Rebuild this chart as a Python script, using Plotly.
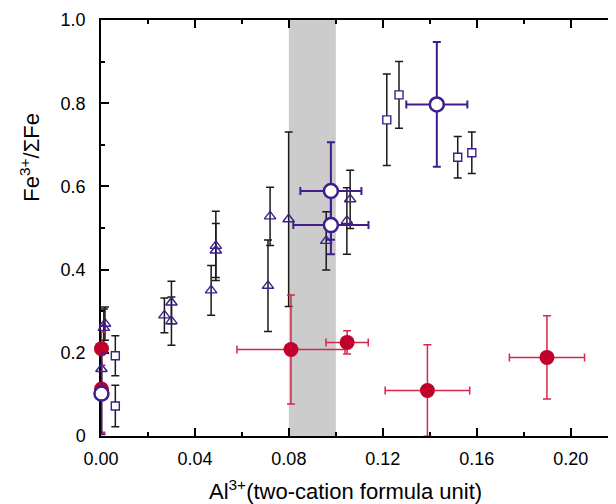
import plotly.graph_objects as go

# ---- data ----
tri_x = [0.0017, 0.0012, 0.0002, 0.0270, 0.0300, 0.0300, 0.0469, 0.0489, 0.0489,
         0.0711, 0.0720, 0.0799, 0.0959, 0.1047, 0.1061]
tri_y = [0.270, 0.260, 0.161, 0.290, 0.321, 0.276, 0.350, 0.457, 0.446,
         0.361, 0.528, 0.521, 0.469, 0.517, 0.569]
tri_err = [0.040, 0.045, 0.040, 0.042, 0.051, 0.058, 0.060, 0.083, 0.065,
           0.110, 0.070, 0.210, 0.070, 0.080, 0.070]

sq_x = [0.0061, 0.0061, 0.1217, 0.1269, 0.1519, 0.1579]
sq_y = [0.193, 0.072, 0.760, 0.820, 0.670, 0.681]
sq_err = [0.048, 0.050, 0.110, 0.080, 0.050, 0.050]

red_x = [0.0002, 0.0002, 0.0809, 0.1048, 0.1390, 0.1899]
red_y = [0.210, 0.113, 0.208, 0.225, 0.1095, 0.189]
red_xerr = [0.0, 0.0, 0.023, 0.009, 0.018, 0.016]
red_yerr = [0.040, 0.104, 0.131, 0.028, 0.110, 0.100]

pur_x = [0.0002, 0.0979, 0.0979, 0.1430]
pur_y = [0.102, 0.589, 0.507, 0.797]
pur_xerr = [0.0, 0.013, 0.016, 0.013]
pur_yerr = [0.098, 0.117, 0.070, 0.150]

band = [0.08, 0.10]
x_ticks = [0.00, 0.04, 0.08, 0.12, 0.16, 0.20]
x_ticktext = ["0.00", "0.04", "0.08", "0.12", "0.16", "0.20"]
y_ticks = [0, 0.2, 0.4, 0.6, 0.8, 1.0]
y_ticktext = ["0", "0.2", "0.4", "0.6", "0.8", "1.0"]

PURPLE = "#3f1d8c"
RED_M = "#c1002b"
RED_E = "#d4274a"
BLACK = "#1a1a1a"
FONT = "Liberation Sans, Arial, sans-serif"

fig = go.Figure()

fig.add_trace(go.Scatter(
    x=tri_x, y=tri_y, mode="markers", cliponaxis=False,
    marker=dict(symbol="triangle-up-open", size=10, color=PURPLE, line=dict(width=1.4, color=PURPLE)),
    error_y=dict(type="data", array=tri_err, color=BLACK, thickness=1.5, width=4),
    showlegend=False))

fig.add_trace(go.Scatter(
    x=sq_x, y=sq_y, mode="markers", cliponaxis=False,
    marker=dict(symbol="square", size=8, color="white", line=dict(width=1.4, color=PURPLE)),
    error_y=dict(type="data", array=sq_err, color=BLACK, thickness=1.5, width=4),
    showlegend=False))

fig.add_trace(go.Scatter(
    x=red_x, y=red_y, mode="markers", cliponaxis=False,
    marker=dict(symbol="circle", size=15, color=RED_M, line=dict(width=0)),
    error_y=dict(type="data", array=red_yerr, color=RED_E, thickness=1.5, width=4),
    error_x=dict(type="data", array=red_xerr, color=RED_E, thickness=1.5, width=4),
    showlegend=False))

fig.add_trace(go.Scatter(
    x=pur_x, y=pur_y, mode="markers", cliponaxis=False,
    marker=dict(symbol="circle", size=14, color="white", line=dict(width=2.5, color=PURPLE)),
    error_y=dict(type="data", array=pur_yerr, color=PURPLE, thickness=2, width=4),
    error_x=dict(type="data", array=pur_xerr, color=PURPLE, thickness=2, width=4),
    showlegend=False))

# dummy trace for top/right mirror axes
fig.add_trace(go.Scatter(x=[None], y=[None], xaxis="x2", yaxis="y2",
                         mode="markers", showlegend=False, hoverinfo="skip"))

fig.add_shape(type="rect", xref="x", yref="paper", x0=band[0], x1=band[1], y0=0, y1=1,
              fillcolor="#cccccc", line=dict(width=0), layer="below")

XR = [0, 0.2193]
YR = [0, 1]

# the page body has an 8px margin, so the figure is sized/placed to compensate
fig.update_layout(
    width=608, height=496,
    margin=dict(l=93, r=0, t=12, b=68, pad=0),
    paper_bgcolor="white", plot_bgcolor="white",
    font=dict(family=FONT, size=18, color="black"),
    xaxis=dict(range=XR, showgrid=False, zeroline=False, showline=True, linecolor="black",
               linewidth=1.5, ticks="inside", ticklen=8, tickwidth=1.5, tickcolor="black",
               tickvals=x_ticks, ticktext=x_ticktext, ticklabelstandoff=6, layer="below traces",
               minor=dict(dtick=0.02, tick0=0, ticks="inside", ticklen=4, tickwidth=1.5, tickcolor="black")),
    yaxis=dict(range=YR, showgrid=False, zeroline=False, showline=True, linecolor="black",
               linewidth=1.5, ticks="inside", ticklen=8, tickwidth=1.5, tickcolor="black",
               tickvals=y_ticks, ticktext=y_ticktext, ticklabelstandoff=10, layer="below traces",
               minor=dict(dtick=0.1, tick0=0, ticks="inside", ticklen=4, tickwidth=1.5, tickcolor="black")),
    xaxis2=dict(range=XR, overlaying="x", side="top", anchor="y", showgrid=False, zeroline=False,
                showline=True, linecolor="black", linewidth=1.5, ticks="inside", ticklen=8,
                tickwidth=1.5, tickcolor="black", tickvals=x_ticks, showticklabels=False,
                minor=dict(dtick=0.02, tick0=0, ticks="inside", ticklen=4, tickwidth=1.5, tickcolor="black")),
    yaxis2=dict(range=YR, overlaying="y", side="right", anchor="x", showgrid=False, zeroline=False,
                showline=False, ticks="inside", ticklen=8, tickwidth=1.5, tickcolor="black",
                tickvals=y_ticks, showticklabels=False,
                minor=dict(dtick=0.1, tick0=0, ticks="inside", ticklen=4, tickwidth=1.5, tickcolor="black")),
)

fig.add_annotation(text="Fe<sup>3+</sup>/ΣFe", xref="paper", yref="paper",
                   x=-0.137, y=0.67, xanchor="center", yanchor="middle",
                   textangle=-90, showarrow=False, font=dict(family=FONT, size=22, color="black"))
fig.add_annotation(text="Al<sup>3+</sup>(two-cation formula unit)", xref="paper", yref="paper",
                   x=0.474, y=-0.131, xanchor="center", yanchor="middle",
                   showarrow=False, font=dict(family=FONT, size=22, color="black"))

fig.write_html("out.html")
